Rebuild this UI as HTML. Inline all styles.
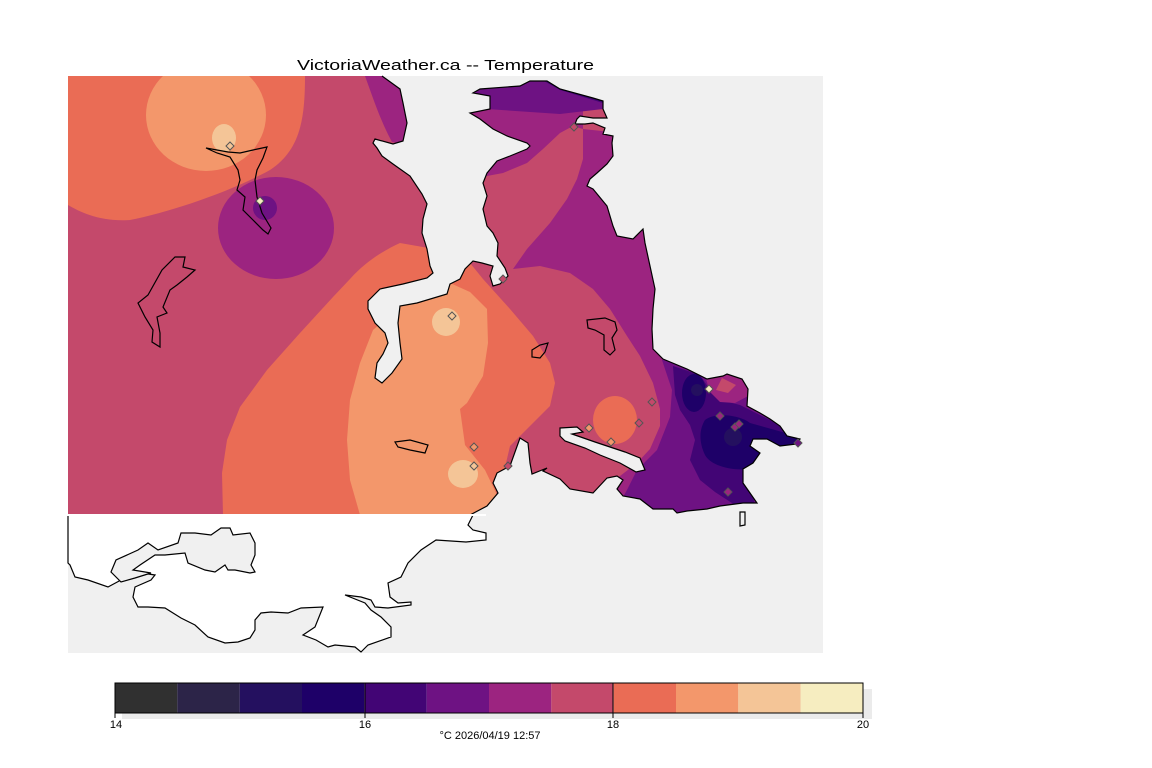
<!DOCTYPE html>
<html><head><meta charset="utf-8"><style>html,body{margin:0;padding:0;background:#fff}svg{display:block}</style></head><body>
<svg width="1152" height="768" viewBox="0 0 1152 768" xmlns="http://www.w3.org/2000/svg" font-family="'Liberation Sans', sans-serif">
<defs><clipPath id="c"><rect x="68" y="76" width="755" height="439"/></clipPath></defs>
<rect width="1152" height="768" fill="#fff"/>
<rect x="68" y="76" width="755" height="577" fill="#f0f0f0"/>
<g clip-path="url(#c)">
<rect x="68" y="76" width="755" height="439" fill="#c4496b"/>
<path d="M68,76 L305,76 C305,120 300,150 270,170 C230,192 170,212 130,220 C100,222 80,212 68,205 Z" fill="#ea6c55"/>
<ellipse cx="206" cy="115" rx="60" ry="56" fill="#f3976b"/>
<ellipse cx="224" cy="138" rx="12" ry="14" fill="#f4c597"/>
<ellipse cx="276" cy="228" rx="58" ry="51" fill="#9c2480"/>
<circle cx="265" cy="208" r="12" fill="#6e1283"/>
<path d="M365,76 L412,76 L412,146 L392,142 C380,120 372,95 365,76Z" fill="#9c2480"/>
<path d="M400,243 C385,250 367,260 350,279 L333,297 L300,333 L267,370 L240,407 L227,440 L222,473 L223,515 L488,515 L503,476 L510,446 L527,429 L550,406 L555,383 L550,363 L533,336 L510,309 L483,279 L470,263 L440,250 Z" fill="#ea6c55"/>
<path d="M373,330 L360,363 L350,400 L347,440 L350,480 L360,515 L490,515 L497,495 L485,470 L465,445 L460,409 L467,403 L483,376 L488,343 L487,309 L470,292 L450,283 L420,290 Z" fill="#f3976b"/>
<ellipse cx="446" cy="322" rx="14" ry="14" fill="#f4c597"/>
<ellipse cx="463" cy="474" rx="15" ry="14" fill="#f4c597"/>
<path d="M460,76 L620,76 L620,133 L583,129 L583,159 L577,179 L567,199 L550,223 L527,249 L513,269 L540,266 L570,273 L593,289 L610,309 L627,336 L640,356 L653,383 L660,409 L660,426 L650,449 L637,463 L620,476 L597,496 L680,520 L823,520 L823,76 Z" fill="#9c2480"/>
<path d="M487,176 L503,173 L527,163 L543,149 L560,133 L573,126 L583,129 L583,76 L460,76 L460,176Z" fill="#9c2480"/>
<path d="M460,76 L620,76 L603,109 L560,114 L487,109 L460,109Z" fill="#6e1283"/>
<path d="M535,76 L620,76 L603,103 L560,90 Z" fill="#420575"/>
<ellipse cx="615" cy="420" rx="22" ry="24" fill="#ea6c55"/>
<path d="M662,360 L672,390 L670,417 L657,450 L637,470 L627,490 L610,520 L823,520 L823,340 Z" fill="#6e1283"/>
<path d="M673,366 L700,375 L710,390 L720,400 L740,405 L750,410 L770,420 L800,440 L790,450 L770,455 L757,470 L750,485 L755,505 L735,505 L715,492 L700,480 L690,460 L695,440 L690,425 L680,410 L675,395 Z" fill="#420575"/>
<path d="M705,376 L727,372 L745,379 L750,395 L735,403 L720,402 L710,392Z" fill="#9c2480"/>
<path d="M722,378 L736,385 L728,393 L716,390Z" fill="#c4496b"/>
<ellipse cx="694" cy="393" rx="12" ry="19" fill="#1e0068"/>
<path d="M705,420 C715,412 740,415 750,423 L800,437 L800,447 L760,455 L755,468 C740,472 712,468 705,455 C698,440 700,428 705,420Z" fill="#1e0068"/>
<circle cx="733" cy="437" r="9" fill="#24105f"/>
<circle cx="697" cy="390" r="6" fill="#24105f"/>
</g>
<polygon fill="#f0f0f0" points="382,76 823,76 823,515 470,515 487,506 498,493 493,483 497,473 510,466 520,438 528,443 530,463 532,474 547,468 543,471 560,479 570,489 593,493 607,478 617,476 623,480 617,489 623,496 640,499 653,509 673,509 677,513 687,511 707,509 720,506 743,503 757,503 750,493 743,483 743,469 753,463 760,453 750,446 753,439 767,439 780,446 797,444 800,439 787,436 780,426 770,419 760,413 747,406 748,389 742,379 727,374 723,376 707,379 687,369 663,359 653,349 652,329 653,309 655,289 650,266 645,243 643,229 633,239 617,236 613,226 607,206 593,189 587,186 590,179 597,173 607,164 613,156 612,143 613,136 603,134 605,128 593,123 585,124 575,124 577,119 580,116 593,118 607,118 603,109 603,101 593,98 560,89 547,81 530,81 520,86 480,89 473,93 490,96 490,109 470,113 480,119 493,129 507,136 527,143 530,146 527,149 510,156 497,161 487,173 483,183 487,196 483,209 487,226 493,233 498,243 497,256 505,268 508,276 500,284 493,286 490,276 493,266 482,263 473,261 465,269 460,279 450,284 447,294 417,303 400,306 398,323 400,343 402,359 392,373 382,383 375,378 377,363 383,354 388,343 385,333 375,323 368,309 368,301 380,289 403,284 427,278 433,273 430,266 427,249 422,233 423,219 427,204 422,194 410,176 393,164 382,156 377,148 373,143 375,139 393,144 403,141 407,123 403,103 400,89 382,76"/>
<polyline fill="none" stroke="#000" stroke-width="1.2" points="470,515 487,506 498,493 493,483 497,473 510,466 520,438 528,443 530,463 532,474 547,468 543,471 560,479 570,489 593,493 607,478 617,476 623,480 617,489 623,496 640,499 653,509 673,509 677,513 687,511 707,509 720,506 743,503 757,503 750,493 743,483 743,469 753,463 760,453 750,446 753,439 767,439 780,446 797,444 800,439 787,436 780,426 770,419 760,413 747,406 748,389 742,379 727,374 723,376 707,379 687,369 663,359 653,349 652,329 653,309 655,289 650,266 645,243 643,229 633,239 617,236 613,226 607,206 593,189 587,186 590,179 597,173 607,164 613,156 612,143 613,136 603,134 605,128 593,123 585,124 575,124 577,119 580,116 593,118 607,118 603,109 603,101 593,98 560,89 547,81 530,81 520,86 480,89 473,93 490,96 490,109 470,113 480,119 493,129 507,136 527,143 530,146 527,149 510,156 497,161 487,173 483,183 487,196 483,209 487,226 493,233 498,243 497,256 505,268 508,276 500,284 493,286 490,276 493,266 482,263 473,261 465,269 460,279 450,284 447,294 417,303 400,306 398,323 400,343 402,359 392,373 382,383 375,378 377,363 383,354 388,343 385,333 375,323 368,309 368,301 380,289 403,284 427,278 433,273 430,266 427,249 422,233 423,219 427,204 422,194 410,176 393,164 382,156 377,148 373,143 375,139 393,144 403,141 407,123 403,103 400,89 382,76"/>
<polygon fill="#f0f0f0" stroke="#000" stroke-width="1.2" points="560,428 577,427 583,432 572,434 595,442 625,452 640,458 645,470 636,472 620,463 600,455 585,448 565,441 560,436"/>
<polygon fill="#fff" stroke="#000" stroke-width="1.2" points="68,515 473,515 468,525 473,530 486,533 486,540 466,542 436,540 421,550 408,563 401,577 388,583 390,597 398,603 411,602 411,605 388,608 375,607 371,600 361,597 345,595 365,603 371,610 381,617 391,627 391,637 368,645 361,652 355,647 335,645 328,647 316,640 303,635 315,627 323,607 301,608 288,613 271,612 261,613 255,620 255,630 250,638 238,642 225,643 208,637 195,625 181,618 165,608 148,607 138,607 133,597 135,587 151,580 155,575 135,572 121,580 108,587 88,580 75,577 70,565 68,563"/>
<rect x="66" y="514" width="420" height="2" fill="#fff"/>
<polygon fill="#f0f0f0" stroke="#000" stroke-width="1.2" points="111,572 116,560 138,550 148,543 158,550 178,543 181,533 195,533 211,535 221,528 230,528 233,535 250,533 255,543 255,555 251,565 255,572 250,573 235,570 228,570 225,565 215,572 205,570 188,563 185,553 165,555 155,555 140,565 133,570 151,573 135,578 121,582"/>
<g fill="none" stroke="#000" stroke-width="1.2">
<polygon points="206,148 217,153 230,157 238,170 240,180 237,190 245,197 243,210 253,220 263,230 268,234 271,228 262,213 257,197 255,180 257,170 263,158 267,147 253,150 240,153 228,152"/>
<polygon points="175,257 185,257 183,267 195,270 187,277 177,285 170,290 163,307 167,313 157,317 160,333 160,347 152,342 153,330 145,317 138,303 148,295 162,270"/>
<polygon points="395,442 410,440 428,445 425,453 410,450 398,447"/>
<polygon points="532,350 540,345 548,343 545,352 540,358 532,357"/>
<polygon points="587,320 605,318 615,322 617,330 612,338 615,350 610,355 604,350 604,335 595,330 588,328"/>
<polygon points="740,512 745,512 745,525 740,526"/>
</g>
<g stroke="#555" stroke-width="1">
<g transform="translate(230,146)"><path d="M0,-4L4,0L0,4L-4,0Z" fill="#f4c597"/></g>
<g transform="translate(260,201)"><path d="M0,-4L4,0L0,4L-4,0Z" fill="#f6edc0"/></g>
<g transform="translate(452,316)"><path d="M0,-4L4,0L0,4L-4,0Z" fill="#f4c597"/></g>
<g transform="translate(474,447)"><path d="M0,-4L4,0L0,4L-4,0Z" fill="#f3976b"/></g>
<g transform="translate(474,466)"><path d="M0,-4L4,0L0,4L-4,0Z" fill="#f4c597"/></g>
<g transform="translate(503,279)"><path d="M0,-4L4,0L0,4L-4,0Z" fill="#c4496b"/></g>
<g transform="translate(508,466)"><path d="M0,-4L4,0L0,4L-4,0Z" fill="#c4496b"/></g>
<g transform="translate(574,127)"><path d="M0,-4L4,0L0,4L-4,0Z" fill="#c4496b"/></g>
<g transform="translate(652,402)"><path d="M0,-4L4,0L0,4L-4,0Z" fill="#c4496b"/></g>
<g transform="translate(589,428)"><path d="M0,-4L4,0L0,4L-4,0Z" fill="#f3976b"/></g>
<g transform="translate(639,423)"><path d="M0,-4L4,0L0,4L-4,0Z" fill="#c4496b"/></g>
<g transform="translate(611,442)"><path d="M0,-4L4,0L0,4L-4,0Z" fill="#f3976b"/></g>
<g transform="translate(709,389)"><path d="M0,-4L4,0L0,4L-4,0Z" fill="#f6edc0"/></g>
<g transform="translate(720,416)"><path d="M0,-4L4,0L0,4L-4,0Z" fill="#9c2480"/></g>
<g transform="translate(735,427)"><path d="M0,-4L4,0L0,4L-4,0Z" fill="#9c2480"/></g>
<g transform="translate(739,424)"><path d="M0,-4L4,0L0,4L-4,0Z" fill="#9c2480"/></g>
<g transform="translate(798,443)"><path d="M0,-4L4,0L0,4L-4,0Z" fill="#6e1283"/></g>
<g transform="translate(728,492)"><path d="M0,-4L4,0L0,4L-4,0Z" fill="#9c2480"/></g>
</g>
<text x="297" y="70" font-size="15" textLength="297" lengthAdjust="spacingAndGlyphs" fill="#000">VictoriaWeather.ca -- Temperature</text>
<rect x="122" y="689" width="750" height="30" fill="#ebebeb"/>
<g>
<rect x="115" y="683" width="62.3" height="30" fill="#303030"/>
<rect x="177.3" y="683" width="62.4" height="30" fill="#2c2448"/>
<rect x="239.7" y="683" width="62.3" height="30" fill="#24105f"/>
<rect x="302" y="683" width="62.3" height="30" fill="#1e0068"/>
<rect x="364.3" y="683" width="62.4" height="30" fill="#420575"/>
<rect x="426.7" y="683" width="62.3" height="30" fill="#6e1283"/>
<rect x="489" y="683" width="62.3" height="30" fill="#9c2480"/>
<rect x="551.3" y="683" width="62.4" height="30" fill="#c4496b"/>
<rect x="613.7" y="683" width="62.3" height="30" fill="#ea6c55"/>
<rect x="676" y="683" width="62.3" height="30" fill="#f3976b"/>
<rect x="738.3" y="683" width="62.4" height="30" fill="#f4c597"/>
<rect x="800.7" y="683" width="62.3" height="30" fill="#f6edc0"/>
</g>
<rect x="115" y="683" width="748" height="30" fill="none" stroke="#000" stroke-width="1"/>
<g stroke="#000" stroke-width="1">
<line x1="115" y1="683" x2="115" y2="718"/><line x1="365" y1="683" x2="365" y2="718"/><line x1="613" y1="683" x2="613" y2="718"/><line x1="863" y1="683" x2="863" y2="718"/>
</g>
<g font-size="11" fill="#000" text-anchor="middle">
<text x="116" y="728">14</text><text x="365" y="728">16</text><text x="613" y="728">18</text><text x="863" y="728">20</text>
<text x="490" y="739">°C  2026/04/19 12:57</text>
</g>
</svg>
</body></html>
